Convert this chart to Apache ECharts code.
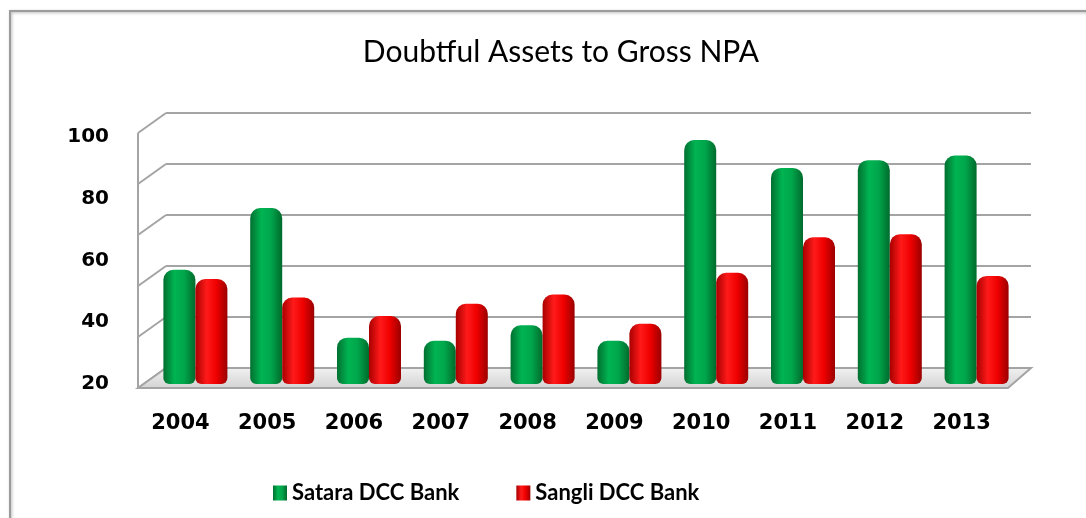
<!DOCTYPE html>
<html>
<head>
<meta charset="utf-8">
<script src="https://cdn.jsdelivr.net/npm/echarts@6/dist/echarts.min.js"></script>
<style>html,body{margin:0;padding:0;background:#fff}#c{width:1086px;height:518px}</style>
</head>
<body>
<div id="c"></div>
<script>
var years = ['2004','2005','2006','2007','2008','2009','2010','2011','2012','2013'];
var satara = [57, 77, 35, 34, 39, 34, 99, 90, 92.5, 94];
var sangli = [54, 48, 42, 46, 49, 39.5, 56, 67.5, 68.5, 55];
var seriesNames = ['Satara DCC Bank', 'Sangli DCC Bank'];
var titleText = 'Doubtful Assets to Gross NPA';

function cyl(c0, c1, c2, c3) {
  return new echarts.graphic.LinearGradient(0, 0, 1, 0, [
    {offset: 0, color: c0}, {offset: 0.35, color: c1}, {offset: 0.65, color: c2}, {offset: 1, color: c3}
  ]);
}
var green = cyl('#006F30', '#00B452', '#00A64B', '#006A2C');
var red = cyl('#A80000', '#FF1A1A', '#F00000', '#9A0000');

var chart = echarts.init(document.getElementById('c'), null, {renderer: 'canvas'});

// decorative 3D frame (wall stubs + floor)
var gridYs = [113, 164, 215, 266, 317, 368];
var deco = [];
gridYs.forEach(function (y) {
  deco.push({type: 'line', z: 0, shape: {x1: 138, y1: y + 20, x2: 166, y2: y}, style: {stroke: '#a4a4a4', lineWidth: 2}});
});
deco.push({type: 'line', z: 0, shape: {x1: 138, y1: 133, x2: 138, y2: 388}, style: {stroke: '#a4a4a4', lineWidth: 2}});
deco.push({type: 'polygon', z: 0, shape: {points: [[138, 388], [166, 368], [1031, 368], [1008, 388]]},
  style: {fill: new echarts.graphic.LinearGradient(0, 0, 0, 1, [{offset: 0, color: '#f2f2f2'}, {offset: 1, color: '#d2d2d2'}]), stroke: '#a4a4a4', lineWidth: 2}});
deco.push({type: 'rect', z: 0, shape: {x: 10, y: 11, width: 1200, height: 600},
  style: {fill: 'none', stroke: '#9c9c9c', lineWidth: 2, shadowBlur: 3, shadowColor: 'rgba(0,0,0,0.3)', shadowOffsetX: 1, shadowOffsetY: 1}});

chart.setOption({
  animation: false,
  backgroundColor: '#fff',
  title: {
    text: titleText, left: 556, top: 32, textAlign: 'center',
    textStyle: {fontFamily: 'Lato', fontWeight: 'normal', fontSize: 30, color: '#000'}
  },
  legend: {
    data: seriesNames, left: 268, top: 477, itemWidth: 14, itemHeight: 15, itemGap: 57,
    icon: 'rect',
    textStyle: {fontFamily: 'Lato', fontWeight: 'bold', fontSize: 22, color: '#000'}
  },
  graphic: deco,
  grid: [
    {left: 152, right: 66, top: 137, bottom: 134},
    {left: 166, right: 55, top: 113, bottom: 150}
  ],
  xAxis: [
    {type: 'category', data: years, gridIndex: 0,
     axisLine: {show: false}, axisTick: {show: false},
     axisLabel: {fontFamily: 'DejaVu Sans', fontWeight: 'bold', fontSize: 21, color: '#000', margin: 29, padding: [0, 30, 0, 0]}},
    {type: 'value', gridIndex: 1, show: false, min: 0, max: 1}
  ],
  yAxis: [
    {type: 'value', gridIndex: 0, min: 20, max: 100, interval: 20,
     splitLine: {show: false}, axisLine: {show: false}, axisTick: {show: false},
     axisLabel: {fontFamily: 'DejaVu Sans', fontWeight: 'bold', fontSize: 20, color: '#000', margin: 43}},
    {type: 'value', gridIndex: 1, min: 0, max: 5, interval: 1,
     axisLabel: {show: false}, axisLine: {show: false}, axisTick: {show: false},
     splitLine: {show: true, lineStyle: {color: '#a4a4a4', width: 2}}}
  ],
  series: [
    {name: seriesNames[0], type: 'bar', xAxisIndex: 0, yAxisIndex: 0, data: satara,
     barWidth: 32, barGap: '0%', z: 3,
     itemStyle: {color: green, borderRadius: [10, 10, 6, 6]}},
    {name: seriesNames[1], type: 'bar', xAxisIndex: 0, yAxisIndex: 0, data: sangli,
     barWidth: 32, barGap: '0%', z: 3,
     itemStyle: {color: red, borderRadius: [10, 10, 6, 6]}}
  ]
});
</script>
</body>
</html>
